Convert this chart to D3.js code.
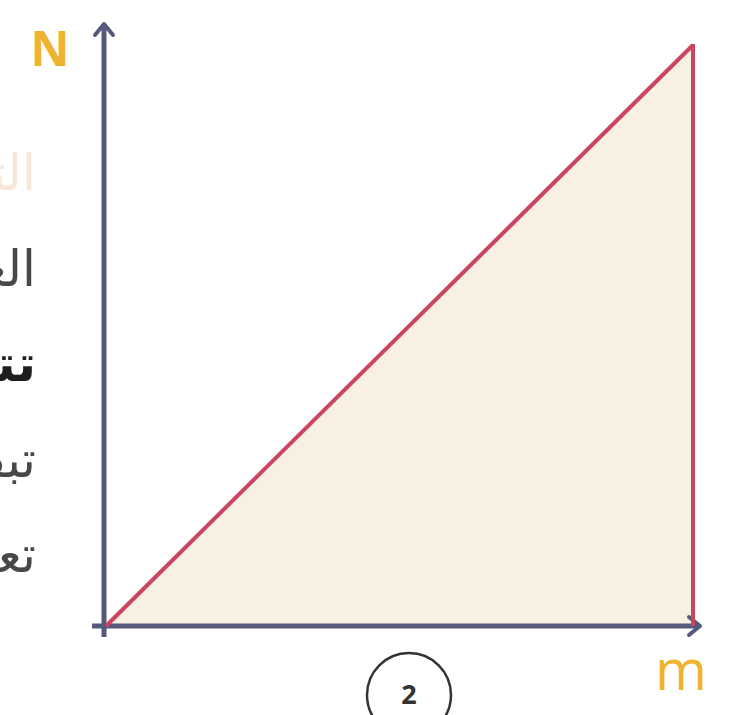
<!DOCTYPE html>
<html>
<head>
<meta charset="utf-8">
<script src="https://cdn.jsdelivr.net/npm/d3@7"></script>
<style>
  html, body { margin: 0; padding: 0; background: #fff; overflow: hidden; }
  svg { display: block; }
</style>
</head>
<body>
<div id="chart"></div>
<script>
// line N = k * m, drawn from origin to the last point
var mValues = [0, 10];
var nValues = [0, 10];
var axisLabels = ["m", "N"];
var sideText = ["التناسب", "العلاقة", "تتناسب", "تبقى", "تعتمد"];
var badge = "2";

var width = 734, height = 715;

var x = d3.scaleLinear().domain([0, 10]).range([106, 693]);
var y = d3.scaleLinear().domain([0, 10]).range([626, 45]);

var svg = d3.select("#chart").append("svg")
  .attr("width", width)
  .attr("height", height);

var axisColor = "#555a7d";
var lineColor = "#c94560";
var labelColor = "#efb330";

// side text, cut off by the left edge like in the source slide
var textStyles = [
  { c: "#f6e7d6", w: "normal" },
  { c: "#484848", w: "normal" },
  { c: "#1e1e1e", w: "bold" },
  { c: "#484848", w: "normal" },
  { c: "#484848", w: "normal" }
];
svg.selectAll("text.side")
  .data(sideText)
  .enter().append("text")
  .attr("class", "side")
  .attr("x", 36)
  .attr("y", function (d, i) { return 190 + i * 95.5; })
  .attr("text-anchor", "end")
  .attr("font-family", "DejaVu Sans, sans-serif")
  .attr("font-size", 50)
  .attr("font-weight", function (d, i) { return textStyles[i].w; })
  .attr("fill", function (d, i) { return textStyles[i].c; })
  .text(function (d) { return d; });

// area under the line
var pts = mValues.map(function (m, i) { return [m, nValues[i]]; });
var last = pts[pts.length - 1];
var area = d3.area()
  .x(function (d) { return x(d[0]); })
  .y0(y(0))
  .y1(function (d) { return y(d[1]); });

svg.append("path")
  .datum(pts)
  .attr("d", area)
  .attr("fill", "#f8f0e3");

// axes
svg.append("line")
  .attr("x1", x(0) - 2).attr("x2", x(0) - 2)
  .attr("y1", y(0) + 11).attr("y2", 24)
  .attr("stroke", axisColor).attr("stroke-width", 5);
svg.append("path")
  .attr("d", "M" + (x(0) - 11) + "," + 35 + "L" + (x(0) - 2) + "," + 24 + "L" + (x(0) + 7) + "," + 35)
  .attr("fill", "none").attr("stroke", axisColor).attr("stroke-width", 4)
  .attr("stroke-linecap", "round").attr("stroke-linejoin", "round");

svg.append("line")
  .attr("x1", x(0) - 14).attr("x2", 700)
  .attr("y1", y(0)).attr("y2", y(0))
  .attr("stroke", axisColor).attr("stroke-width", 5);
svg.append("path")
  .attr("d", "M689," + (y(0) - 9) + "L700," + y(0) + "L689," + (y(0) + 9))
  .attr("fill", "none").attr("stroke", axisColor).attr("stroke-width", 4)
  .attr("stroke-linecap", "round").attr("stroke-linejoin", "round");

// the line and the vertical drop
svg.append("path")
  .datum(pts)
  .attr("d", d3.line().x(function (d) { return x(d[0]); }).y(function (d) { return y(d[1]); }))
  .attr("fill", "none").attr("stroke", lineColor).attr("stroke-width", 4);
svg.append("line")
  .attr("x1", x(last[0])).attr("x2", x(last[0]))
  .attr("y1", y(last[1]) - 1).attr("y2", y(0))
  .attr("stroke", lineColor).attr("stroke-width", 4);

// axis labels
svg.append("text")
  .attr("x", 50).attr("y", 66)
  .attr("text-anchor", "middle")
  .attr("font-family", "Open Sans, sans-serif")
  .attr("font-weight", "bold").attr("font-size", 48)
  .attr("fill", labelColor)
  .text(axisLabels[1]);
svg.append("text")
  .attr("x", 681).attr("y", 690)
  .attr("text-anchor", "middle")
  .attr("font-family", "Open Sans, sans-serif")
  .attr("font-size", 56)
  .attr("fill", labelColor)
  .text(axisLabels[0]);

// numbered badge
svg.append("circle")
  .attr("cx", 409).attr("cy", 695).attr("r", 42)
  .attr("fill", "#fff").attr("stroke", "#333").attr("stroke-width", 2.5);
svg.append("text")
  .attr("x", 409).attr("y", 704)
  .attr("text-anchor", "middle")
  .attr("font-family", "Open Sans, sans-serif")
  .attr("font-weight", "bold").attr("font-size", 27)
  .attr("fill", "#333")
  .text(badge);
</script>
</body>
</html>
